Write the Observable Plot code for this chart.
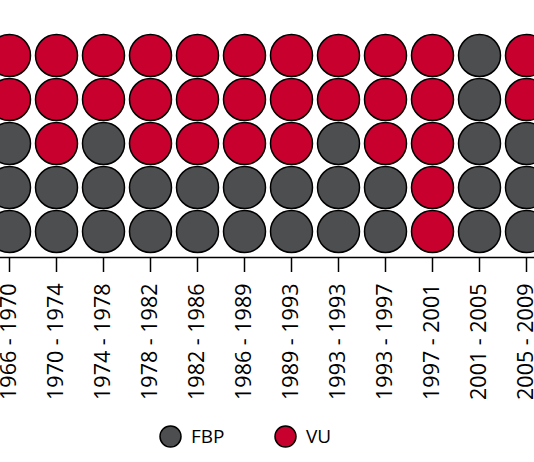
<!DOCTYPE html>
<html>
<head>
<meta charset="utf-8">
<script src="https://cdn.jsdelivr.net/npm/d3@7"></script>
<script src="https://cdn.jsdelivr.net/npm/@observablehq/plot@0.6"></script>
<style>
  html, body { margin: 0; padding: 0; background: #fff; }
  #wrap { width: 534px; height: 462px; overflow: hidden; position: relative; }
  .legend { position: absolute; top: 410px; left: 0; width: 534px; height: 52px; font-family: "Open Sans", sans-serif; font-size: 19px; color: #000; }
  .legend .item { position: absolute; top: 0; height: 52px; display: flex; align-items: center; }
  .legend svg { margin-right: 9px; }
</style>
</head>
<body>
<div id="wrap"><div id="chart"></div><div class="legend" id="legend"></div></div>
<script>
const periods = ["1966 - 1970", "1970 - 1974", "1974 - 1978", "1978 - 1982", "1982 - 1986", "1986 - 1989",
                 "1989 - 1993", "1993 - 1993", "1993 - 1997", "1997 - 2001", "2001 - 2005", "2005 - 2009"];
const parties = ["FBP", "VU"];
const fbpSeats = [3, 2, 3, 2, 2, 2, 2, 3, 2, 0, 5, 3];
const vuSeats  = [2, 3, 2, 3, 3, 3, 3, 2, 3, 5, 0, 2];
const colors = ["#4d4e50", "#c8002e"];

const cells = [];
periods.forEach((p, i) => {
  let seat = 1;
  for (let k = 0; k < fbpSeats[i]; k++) cells.push({period: p, seat: seat++, party: "FBP"});
  for (let k = 0; k < vuSeats[i]; k++) cells.push({period: p, seat: seat++, party: "VU"});
});

const chart = Plot.plot({
  width: 534,
  height: 410,
  marginLeft: 0,
  marginRight: 0,
  marginTop: 0,
  marginBottom: 153,
  style: {background: "transparent", overflow: "visible"},
  x: {type: "point", domain: periods, range: [4, 530], padding: 0},
  y: {domain: [1, 5], insetTop: 55, insetBottom: 26, axis: null},
  color: {domain: parties, range: colors},
  marks: [
    Plot.dot(cells, {x: "period", y: "seat", r: 21, fill: "party", stroke: "#000", strokeWidth: 1.5}),
    Plot.frame({anchor: "bottom", stroke: "#000", strokeWidth: 1.6}),
    Plot.axisX({tickSize: 15, tickPadding: 11, tickRotate: -90, fontSize: 21.5, fontFamily: "Open Sans", stroke: "#000", strokeWidth: 1.5, fill: "#000", label: null})
  ]
});
document.getElementById("chart").appendChild(chart);

const legend = document.getElementById("legend");
const legendPos = [159, 274];
parties.forEach((p, i) => {
  const d = document.createElement("div");
  d.className = "item";
  d.style.left = legendPos[i] + "px";
  d.innerHTML = `<svg width="23" height="23"><circle cx="11.5" cy="11.5" r="10.5" fill="${colors[i]}" stroke="#000" stroke-width="1.5"/></svg><span>${p}</span>`;
  legend.appendChild(d);
});
</script>
</body>
</html>
